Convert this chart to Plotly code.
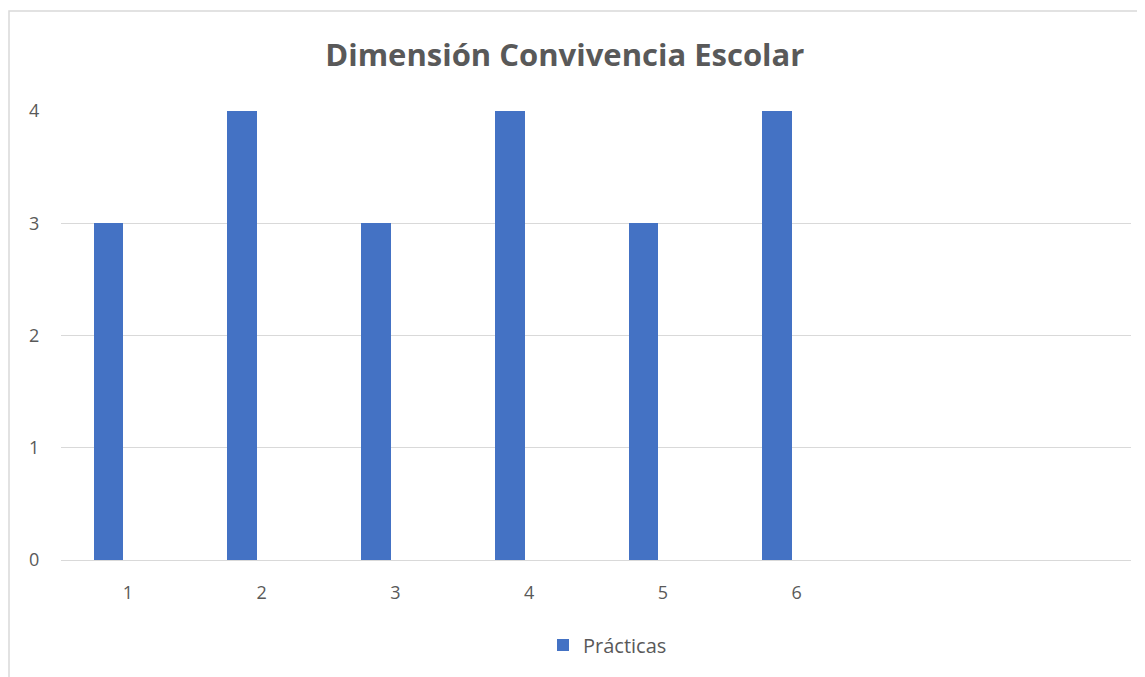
import plotly.graph_objects as go

categories = [1, 2, 3, 4, 5, 6]
practicas = [3, 4, 3, 4, 3, 4]
x_ticks = [1, 2, 3, 4, 5, 6]
y_ticks = [0, 1, 2, 3, 4]

# page pixel layout (browser body adds an 8px margin)
O = 8
W, H = 1145 - O, 677 - O
PL, PR, PT, PB = 61, 1131, 111, 560  # plot area in page pixels
L, R, T = PL - O, (W + O) - PR, PT - O
B = H - (PB - O)
pw, ph = PR - PL, PB - PT

def px_x(p):
    return (p - PL) / pw

def px_y(p):
    return (PB - p) / ph

fig = go.Figure()
fig.add_trace(go.Bar(
    x=categories, y=practicas, name="Prácticas",
    marker=dict(color="#4472C4", line=dict(width=0)),
    width=0.224, offset=-0.257,
    showlegend=True,
))

fig.update_layout(
    width=W, height=H,
    margin=dict(l=L, r=R, t=T, b=B),
    paper_bgcolor="white", plot_bgcolor="white",
    font=dict(family="Open Sans", color="#595959", size=18),
    title=dict(text="<b>Dimensión Convivencia Escolar</b>",
               x=px_x(585), xanchor="center", y=1 - (55 - O) / H, yanchor="middle",
               font=dict(size=31, color="#595959", family="Open Sans")),
    xaxis=dict(range=[0.5, 8.5], tickvals=x_ticks, ticktext=[str(v) for v in x_ticks],
               showgrid=False, zeroline=False, showline=False,
               ticks="outside", ticklen=16, tickcolor="rgba(0,0,0,0)",
               tickfont=dict(size=18, color="#595959")),
    yaxis=dict(range=[0, 4], tickvals=y_ticks, showgrid=True, gridcolor="#d9d9d9",
               gridwidth=1, zeroline=True, zerolinecolor="#d9d9d9", zerolinewidth=1,
               showline=False, ticks="outside", ticklen=17, tickcolor="rgba(0,0,0,0)",
               tickfont=dict(size=18, color="#595959")),
    legend=dict(orientation="h", x=px_x(543), xanchor="left", y=px_y(645), yanchor="middle",
                font=dict(size=20, color="#595959"), itemwidth=30, bgcolor="rgba(0,0,0,0)"),
    bargap=0.0,
    shapes=[dict(type="rect", xref="paper", yref="paper",
                 x0=px_x(9), x1=px_x(1170), y0=px_y(720), y1=px_y(11),
                 line=dict(color="#d9d9d9", width=1.5), fillcolor="rgba(0,0,0,0)", layer="below")],
)

fig.write_html("out.html")
